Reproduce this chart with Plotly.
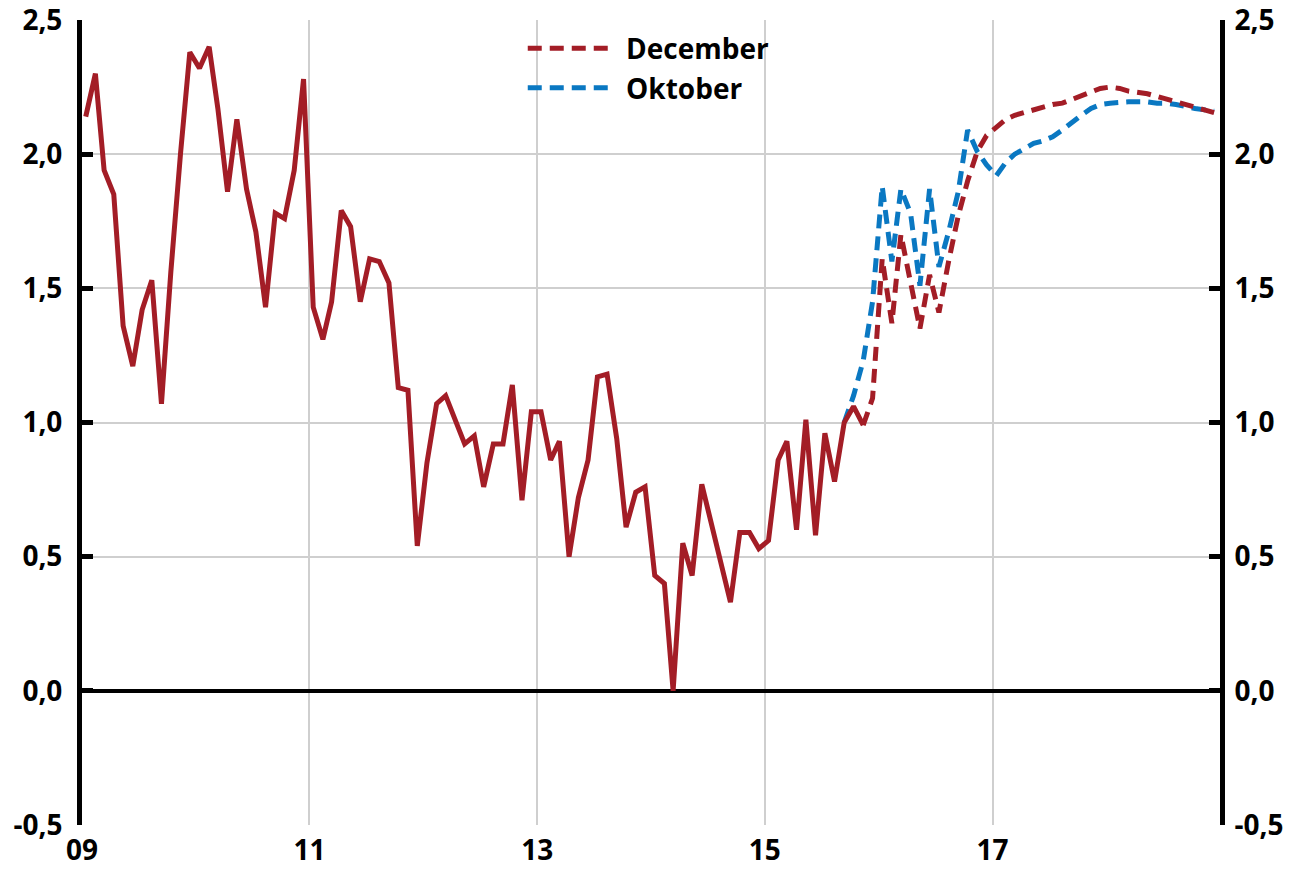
import pandas as pd
import plotly.graph_objects as go

# ---- data (monthly, Jan 2009 onwards) ----
actual = [2.14, 2.30, 1.94, 1.85, 1.36, 1.21, 1.42, 1.53, 1.07, 1.56, 2.00, 2.38,
          2.32, 2.40, 2.17, 1.86, 2.13, 1.87, 1.71, 1.43, 1.78, 1.76, 1.94, 2.28,
          1.43, 1.31, 1.45, 1.79, 1.73, 1.45, 1.61, 1.60, 1.52, 1.13, 1.12, 0.54,
          0.85, 1.07, 1.10, 1.01, 0.92, 0.95, 0.76, 0.92, 0.92, 1.14, 0.71, 1.04,
          1.04, 0.86, 0.93, 0.50, 0.72, 0.86, 1.17, 1.18, 0.94, 0.61, 0.74, 0.76,
          0.43, 0.40, 0.00, 0.55, 0.43, 0.77, 0.63, 0.48, 0.33, 0.59, 0.59, 0.53,
          0.56, 0.86, 0.93, 0.60, 1.01, 0.58, 0.96, 0.78, 1.00, 1.06, 0.99]

# December forecast starts at Nov 2015 (month index 82)
december = [0.99, 1.09, 1.61, 1.37, 1.70, 1.53, 1.35, 1.55, 1.41, 1.60,
            1.77, 1.90, 2.01, 2.07, 2.10, 2.13, 2.145, 2.155, 2.165, 2.175,
            2.185, 2.19, 2.205, 2.22, 2.235, 2.245, 2.25, 2.245, 2.235, 2.23,
            2.225, 2.215, 2.205, 2.195, 2.185, 2.175, 2.165, 2.155]
dec_start = 82

# Oktober forecast starts at Sep 2015 (month index 80)
oktober = [1.00, 1.10, 1.23, 1.45, 1.88, 1.60, 1.87, 1.78, 1.51, 1.87,
           1.58, 1.71, 1.86, 2.09, 2.01, 1.96, 1.92, 1.97, 2.00, 2.02,
           2.04, 2.05, 2.065, 2.09, 2.12, 2.145, 2.17, 2.185, 2.19, 2.195,
           2.195, 2.195, 2.195, 2.19, 2.19, 2.185, 2.175, 2.17, 2.165, 2.16]
okt_start = 80

tick_years = ["2009-01-01", "2011-01-01", "2013-01-01", "2015-01-01", "2017-01-01"]
tick_labels = ["09", "11", "13", "15", "17"]
y_ticks = [-0.5, 0.0, 0.5, 1.0, 1.5, 2.0, 2.5]
y_labels = ["-0,5", "0,0", "0,5", "1,0", "1,5", "2,0", "2,5"]

RED = "#A31D26"
BLUE = "#0A78C2"
FONT = "Open Sans"

months = pd.date_range("2009-01-01", periods=120, freq="MS") + pd.Timedelta(days=12)
x_act = months[:len(actual)]
x_dec = months[dec_start:dec_start + len(december)]
x_okt = months[okt_start:okt_start + len(oktober)]

fig = go.Figure()

fig.add_trace(go.Scatter(x=x_okt, y=oktober, mode="lines", name=" Oktober",
                         line=dict(color=BLUE, width=5, dash="14px,8px"),
                         legendrank=2))
fig.add_trace(go.Scatter(x=x_dec, y=december, mode="lines", name=" December",
                         line=dict(color=RED, width=5, dash="14px,8px"),
                         legendrank=1))
fig.add_trace(go.Scatter(x=x_act, y=actual, mode="lines", name="Utfall",
                         line=dict(color=RED, width=5), showlegend=False))
# invisible trace to carry the right-hand axis
fig.add_trace(go.Scatter(x=x_act, y=actual, mode="lines", yaxis="y2",
                         line=dict(color="rgba(0,0,0,0)", width=0),
                         showlegend=False, hoverinfo="skip"))

axis_font = dict(family=FONT, size=28, color="black", weight="bold")

# the page body adds an 8px offset, so the figure is 8px smaller than the window
fig.update_layout(
    width=1285, height=869,
    paper_bgcolor="white", plot_bgcolor="white",
    margin=dict(l=74, r=73, t=12, b=52, autoexpand=False),
    font=dict(family=FONT, size=28, color="black", weight="bold"),
    showlegend=True,
    legend=dict(x=0.3873, y=0.9956, xanchor="left", yanchor="top",
                bgcolor="rgba(255,255,255,0)", borderwidth=0,
                font=dict(family=FONT, size=28, color="black", weight="bold"),
                itemwidth=86, tracegroupgap=0),
    xaxis=dict(type="date", range=["2009-01-01", "2019-01-01"],
               tickvals=tick_years, ticktext=tick_labels,
               showgrid=True, gridcolor="#cfcfcf", gridwidth=2,
               showline=False, zeroline=False, ticks="",
               tickfont=axis_font, ticklabelstandoff=6,
               automargin=False, ticklabeloverflow="allow"),
    yaxis=dict(range=[-0.5, 2.5], tickvals=y_ticks, ticktext=y_labels,
               showgrid=True, gridcolor="#cfcfcf", gridwidth=2,
               zeroline=True, zerolinecolor="black", zerolinewidth=4,
               showline=True, linecolor="black", linewidth=5,
               ticks="inside", ticklen=11, tickwidth=5, tickcolor="black",
               tickfont=axis_font, ticklabelstandoff=9,
               automargin=False, ticklabeloverflow="allow"),
    yaxis2=dict(range=[-0.5, 2.5], tickvals=y_ticks, ticktext=y_labels,
                overlaying="y", side="right", showgrid=False, zeroline=False,
                showline=True, linecolor="black", linewidth=5,
                ticks="inside", ticklen=11, tickwidth=5, tickcolor="black",
                tickfont=axis_font, ticklabelstandoff=4,
                automargin=False, ticklabeloverflow="allow"),
)

fig.write_html("out.html")
